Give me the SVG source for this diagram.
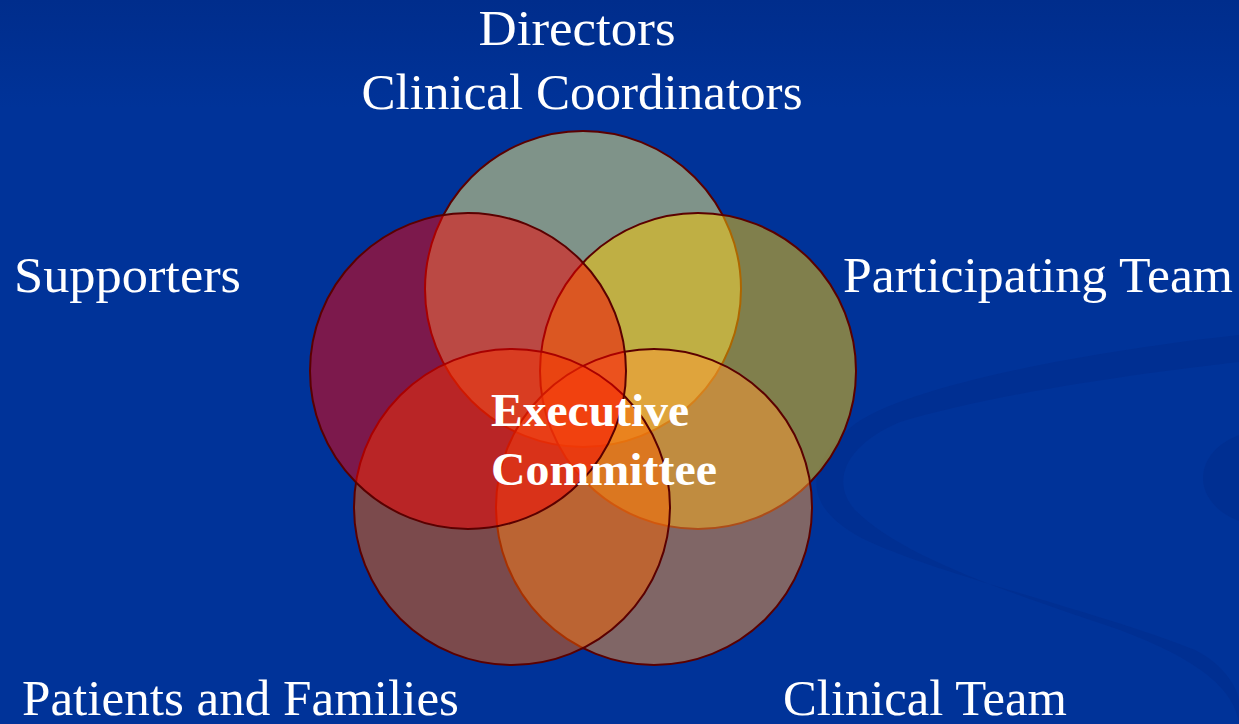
<svg xmlns="http://www.w3.org/2000/svg" width="1239" height="724" viewBox="0 0 1239 724">
  <defs>
    <linearGradient id="bg" x1="0" y1="0" x2="0" y2="1">
      <stop offset="0" stop-color="#002D8C"/>
      <stop offset="0.15" stop-color="#003399"/>
      <stop offset="1" stop-color="#003399"/>
    </linearGradient>
    <style>
      .lbl { font-family: "Liberation Serif", "Times New Roman", serif; font-size: 50px; fill: #ffffff; }
      .ctr { font-family: "Liberation Serif", "Times New Roman", serif; font-size: 47px; font-weight: bold; fill: #ffffff; }
      .ring { stroke: #5A0000; stroke-width: 2; fill-opacity: 0.5; }
      .swoosh { fill: #002D8F; opacity: 0.7; }
    </style>
  </defs>

  <g id="background">
    <rect x="0" y="0" width="1239" height="724" fill="url(#bg)"/>
    <path class="swoosh" d="M1239,335 C1100,350 900,385 850,428 C800,470 805,512 870,542 C950,578 1100,612 1195,650 C1225,665 1239,690 1239,702 L1239,724 C1235,690 1200,660 1120,630 C1000,590 900,555 855,510 C830,482 845,445 900,422 C1000,392 1150,372 1239,362 Z"/>
    <ellipse class="swoosh" cx="1268" cy="478" rx="65" ry="48"/>
  </g>

  <g id="node-directors">
    <circle class="ring" cx="583" cy="289" r="158" fill="#FEF379"/>
    <text class="lbl" x="577" y="45" text-anchor="middle" textLength="197" lengthAdjust="spacingAndGlyphs">Directors</text>
    <text class="lbl" x="582" y="109" text-anchor="middle" textLength="441" lengthAdjust="spacingAndGlyphs">Clinical Coordinators</text>
  </g>

  <g id="node-participating-team">
    <circle class="ring" cx="698" cy="371" r="158" fill="#FFCC00"/>
    <text class="lbl" x="843" y="292" textLength="390" lengthAdjust="spacingAndGlyphs">Participating Team</text>
  </g>

  <g id="node-clinical-team">
    <circle class="ring" cx="654" cy="507" r="158" fill="#FF9933"/>
    <text class="lbl" x="783" y="715" textLength="284" lengthAdjust="spacingAndGlyphs">Clinical Team</text>
  </g>

  <g id="node-patients-families">
    <circle class="ring" cx="512" cy="507" r="158" fill="#F66100"/>
    <text class="lbl" x="22" y="715" textLength="437" lengthAdjust="spacingAndGlyphs">Patients and Families</text>
  </g>

  <g id="node-supporters">
    <circle class="ring" cx="468" cy="371" r="158" fill="#F80000"/>
    <text class="lbl" x="14" y="292" textLength="227" lengthAdjust="spacingAndGlyphs">Supporters</text>
  </g>

  <g id="node-executive-committee">
    <text class="ctr" x="491" y="426" textLength="198" lengthAdjust="spacingAndGlyphs">Executive</text>
    <text class="ctr" x="491" y="485" textLength="226" lengthAdjust="spacingAndGlyphs">Committee</text>
  </g>

  <g id="connectors"/>
</svg>
